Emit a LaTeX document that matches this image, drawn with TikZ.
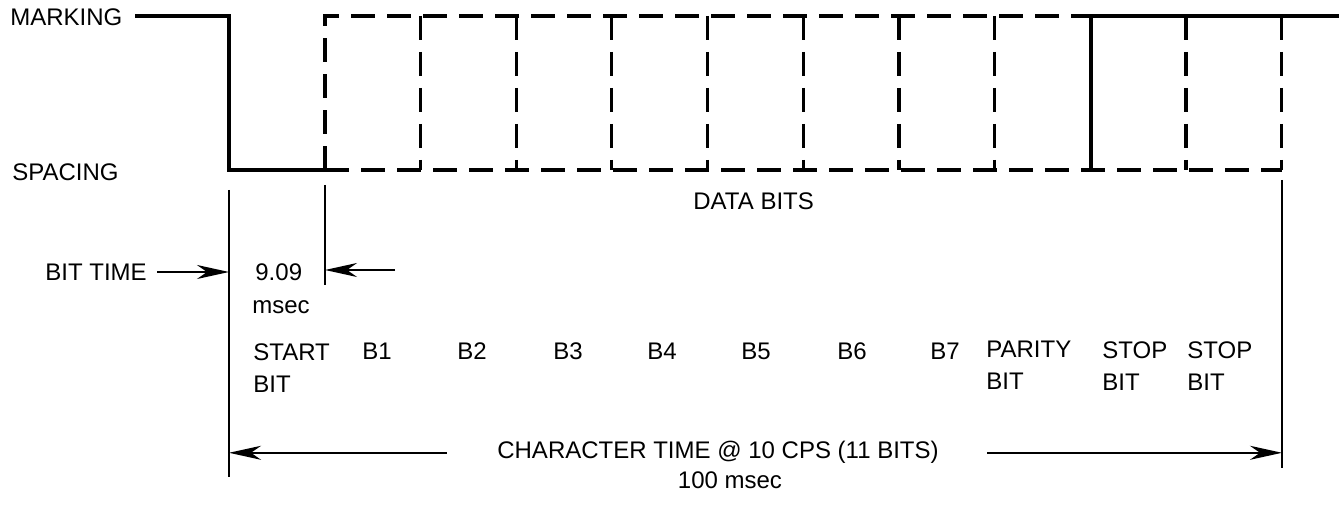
\documentclass[tikz,border=0pt]{standalone}
\usepackage{fontspec}
\setmainfont{Liberation Sans}
\usetikzlibrary{arrows.meta,positioning}
\tikzset{
  >={Stealth[length=16pt,width=7pt,inset=5pt]},
  lbl/.style={font=\fontsize{12}{16}\selectfont,inner sep=0pt,align=left},
  level/.style={line width=1.6pt},
  maybe/.style={line width=1.6pt,dash pattern=on 12pt off 6pt},
  guide/.style={line width=0.8pt},
  dim/.style={->,line width=1pt},
}

\begin{document}
\begin{tikzpicture}[x=0.5pt,y=-0.5pt]
  \useasboundingbox (0,0) rectangle (1339,507);
  % levels
  \node[lbl,anchor=west] (mark) at (10,17) {MARKING};
  \node[lbl,anchor=west] (space) at (12,172) {SPACING};
  % start bit (solid)
  \draw[level] (135,16) -- (229,16) -- (229,170) -- (325,170);
  % possible data bits (dashed)
  \draw[maybe] (325,170) -- (325,16) -- (1091,16);
  \draw[maybe] (325,170) -- (1282,170);
  \foreach \k in {2,...,8,10,11}
    \draw[maybe] (229+95.7*\k,16) -- (229+95.7*\k,170);
  % stop bits
  \draw[level] (1091,170) -- (1091,16) -- (1339,16);
  % guide lines
  \coordinate (e0) at (229,190);
  \coordinate (e1) at (325,185);
  \coordinate (e11) at (1282,180);
  \draw[guide] (e0) -- (229,477);
  \draw[guide] (e1) -- (325,285);
  \draw[guide] (e11) -- (1282,468);
  \node[lbl,anchor=base west] (databits) at (693,210) {DATA BITS};
  % bit time
  \node[lbl,anchor=west] (bittime) at (45,272) {BIT TIME};
  \node[lbl,anchor=west] (val) at (255,272) {9.09};
  \node[lbl,anchor=west] (msec) at (252,307) {msec};
  \coordinate (btr) at (395,270);
  \draw[dim,shorten <=5pt] (bittime) -- (bittime -| e0);
  \draw[dim] (btr) -- (btr -| e1);
  % bit names
  \node[lbl,anchor=north west] (start) at (253,343) {START\\BIT};
  \foreach \x/\b in {362/B1,457/B2,553/B3,647/B4,741/B5,837/B6,930/B7}
    \node[lbl,anchor=west] (\b) at (\x,351) {\b};
  \node[lbl,anchor=north west] (parity) at (986,341) {PARITY\\BIT};
  \node[lbl,anchor=north west] (stopa) at (1102,341) {STOP\\BIT};
  \node[lbl,anchor=north west] (stopb) at (1187,341) {STOP\\BIT};
  % character time
  \node[lbl,anchor=base] (chartime) at (718,459) {CHARACTER TIME @ 10 CPS (11 BITS)};
  \node[lbl,anchor=base] (total) at (730,488) {100 msec};
  \draw[dim,shorten <=25pt] (chartime.west) -- (chartime.west -| e0);
  \draw[dim,shorten <=24pt] (chartime.east) -- (chartime.east -| e11);
\end{tikzpicture}
\end{document}
